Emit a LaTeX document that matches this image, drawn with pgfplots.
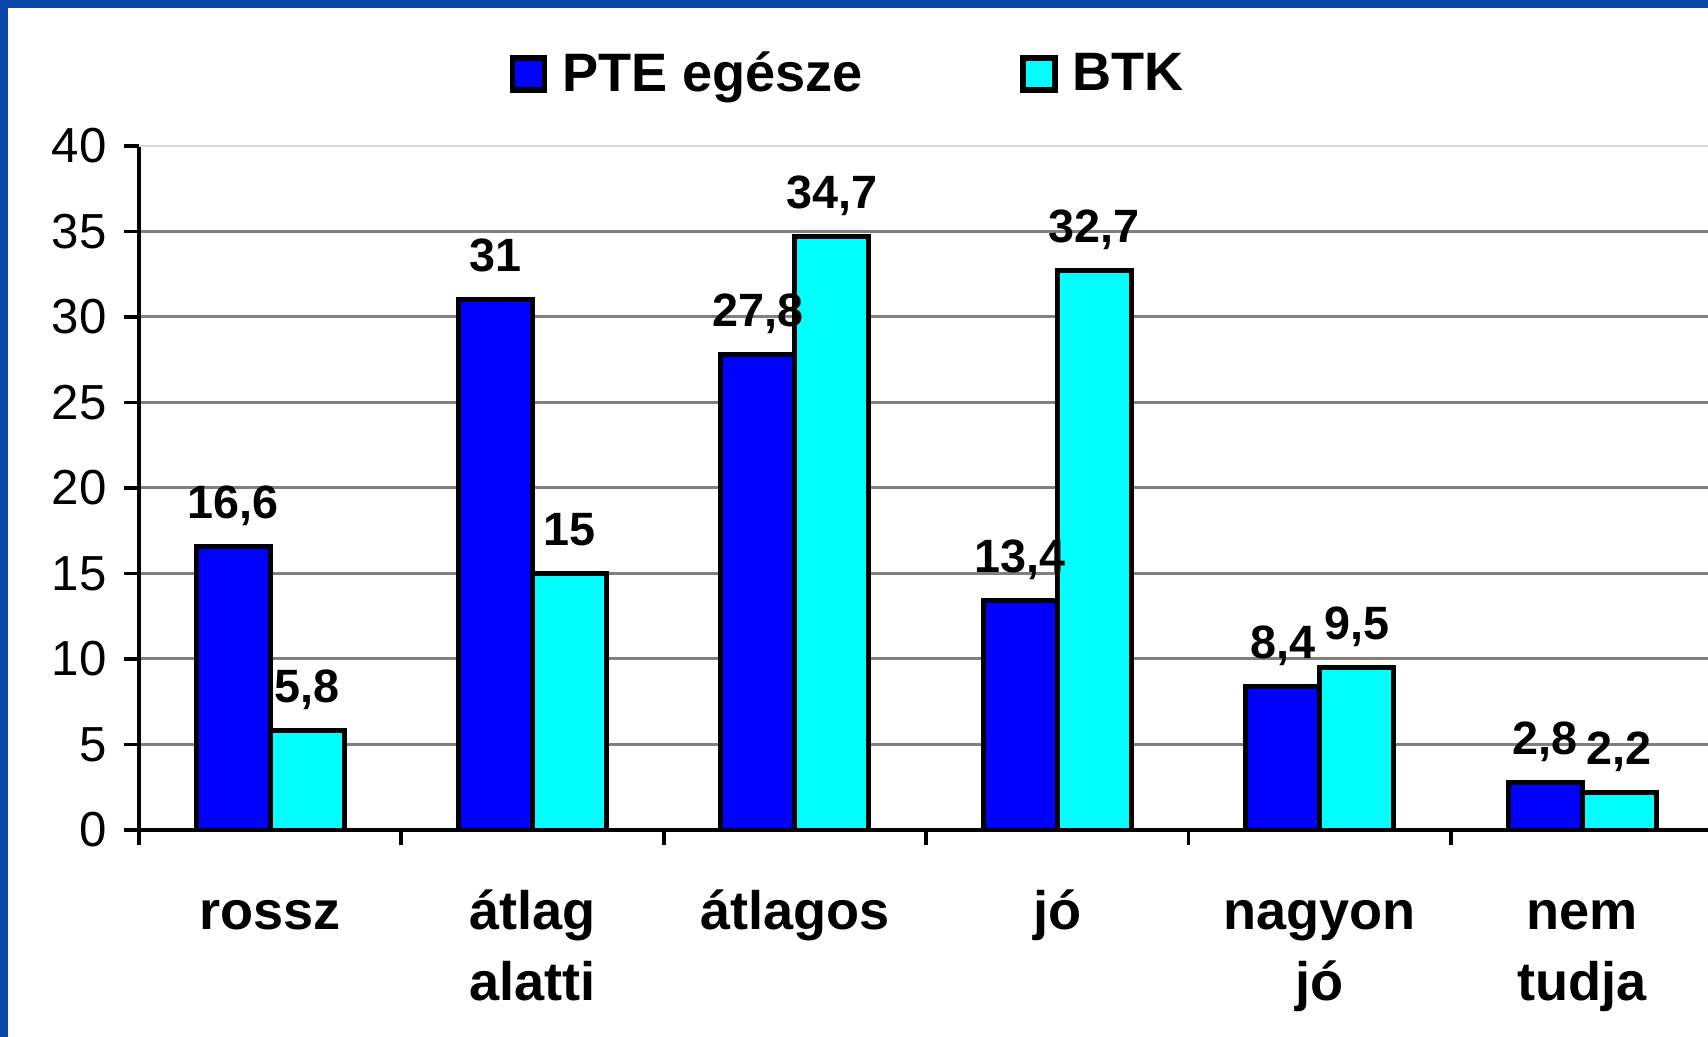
\documentclass[border=0pt]{standalone}
\usepackage{pgfplots}
\pgfplotsset{compat=1.18}
\usepackage{fontspec}
\setmainfont{Liberation Sans}
\definecolor{slideblue}{RGB}{8,72,168}
\definecolor{pteblue}{RGB}{0,0,255}
\definecolor{btkcyan}{RGB}{0,255,255}
\definecolor{gridgray}{RGB}{128,128,128}
\newcommand\cs{\rule{0pt}{16pt}}
\begin{document}
\begin{tikzpicture}[x=1cm,y=1cm]
\clip (0,0) rectangle (17.08,10.37);
\fill[slideblue] (0,0) rectangle (17.08,10.37);
\fill[white] (0.08,0) rectangle (17.08,10.29);
\begin{axis}[
  at={(1.39cm,2.07cm)}, anchor=south west,
  scale only axis, width=15.69cm, height=6.84cm,
  ybar=0pt, bar width=0.74cm,
  xmin=-0.5, xmax=5.48, ymin=0, ymax=40,
  axis x line*=bottom, axis y line*=left,
  axis line style={line width=1.1pt, black},
  xtick={0,...,5},
  xticklabels={\cs rossz, {\cs átlag\\alatti}, \cs átlagos, \cs jó, {\cs nagyon\\jó}, {\cs nem\\tudja}},
  major x tick style={draw=none},
  minor xtick={-0.5,0.5,1.5,2.5,3.5,4.5,5.5},
  minor x tick style={line width=1.1pt, black},
  minor tick length=0.15cm,
  ytick={0,5,...,35},
  extra y ticks={40},
  extra y tick style={grid style={line width=0.8pt, black!15}},
  major y tick style={line width=1.1pt, black},
  major tick length=0.15cm,
  tick align=outside,
  ymajorgrids,
  grid style={line width=0.85pt, gridgray},
  yticklabel style={font=\fontsize{14}{16}\selectfont, xshift=-0.05cm},
  xticklabel style={font=\bfseries\fontsize{15.4}{20.3}\selectfont, align=center, anchor=north, yshift=-0.16cm},
  /pgf/number format/assume math mode=true,
  nodes near coords,
  nodes near coords style={font=\bfseries\fontsize{13.3}{15}\selectfont, anchor=base, yshift=0.28cm, /pgf/number format/.cd, use comma, fixed},
  every axis plot/.append style={draw=black, line width=1.4pt},
  legend columns=2,
  legend style={at={(0.2358,1.105)}, anchor=west, draw=none, fill=none, inner sep=0pt,
    font=\bfseries\fontsize{15.4}{17}\selectfont,
    /tikz/every odd column/.append style={column sep=0.08cm},
    /tikz/every even column/.append style={column sep=1.5cm}},
  legend image code/.code={\draw[#1, line width=1.6pt] (0cm,-0.16cm) rectangle (0.32cm,0.16cm);},
]
\addplot[fill=pteblue] coordinates {(0,16.6) (1,31) (2,27.8) (3,13.4) (4,8.4) (5,2.8)};
\addplot[fill=btkcyan] coordinates {(0,5.8) (1,15) (2,34.7) (3,32.7) (4,9.5) (5,2.2)};
\legend{PTE egésze, BTK}
\end{axis}
\end{tikzpicture}
\end{document}
